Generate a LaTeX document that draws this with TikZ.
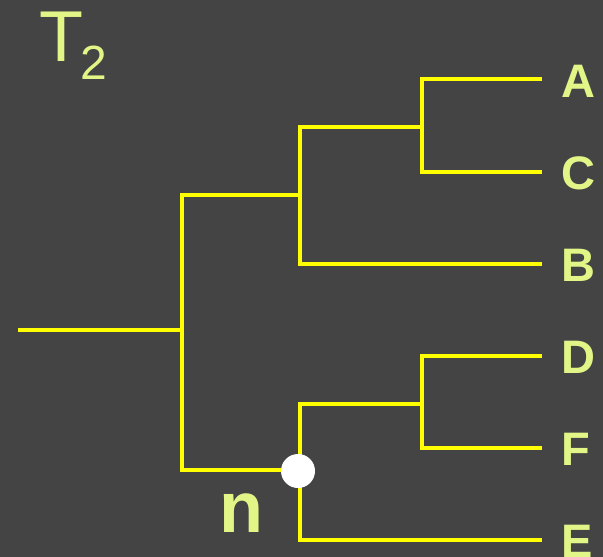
\documentclass[tikz,border=0pt]{standalone}
\usepackage{fontspec}
\setmainfont{Liberation Sans}
\definecolor{bgc}{RGB}{68,68,68}
\definecolor{branch}{RGB}{255,255,0}
\definecolor{lbl}{RGB}{225,246,135}
\tikzset{
  edge/.style={draw=branch, line width=4pt, line join=miter},
  leaf/.style={text=lbl, font=\fontsize{47}{47}\selectfont\bfseries, inner sep=0pt, anchor=base west},
  dot/.style={circle, fill=white, minimum size=34pt, inner sep=0pt}
}
\begin{document}
\begin{tikzpicture}[x=1pt,y=-1pt]
\fill[bgc] (0,0) rectangle (603,557);
\useasboundingbox (0,0) rectangle (603,557);
% title
\node[text=lbl, font=\fontsize{72}{72}\selectfont, inner sep=0pt, anchor=base west] (T) at (39,61) {T};
\node[text=lbl, font=\fontsize{48}{48}\selectfont, inner sep=0pt, anchor=base west] (Tsub) at (80,79) {2};
% internal coordinates
\coordinate (root) at (18,330);
\coordinate (r) at (182,330);
\coordinate (u) at (300,195);
\coordinate (ac) at (422,127);
\coordinate (l) at (300,470);
\coordinate (df) at (422,404);
% leaf ends
\coordinate (eA) at (542,79);
\coordinate (eC) at (542,172);
\coordinate (eB) at (542,264);
\coordinate (eD) at (542,356);
\coordinate (eF) at (542,448);
\coordinate (eE) at (542,540);
% labels
\node[leaf] (A) at (561,97) {A};
\node[leaf] (C) at (561,189) {C};
\node[leaf] (B) at (561,281) {B};
\node[leaf] (D) at (561,373) {D};
\node[leaf] (F) at (561,465) {F};
\node[leaf] (E) at (561,557) {E};
% edges
\draw[edge] (root) -- (r);
\draw[edge] (u) -- (r |- u) -- (r |- l) -- (l);
\draw[edge] (eA) -- (eA -| ac) -- (eC -| ac) -- (eC);
\draw[edge] (ac) -- (ac -| u) -- (eB -| u) -- (eB);
\draw[edge] (eD) -- (eD -| df) -- (eF -| df) -- (eF);
\draw[edge] (df) -- (df -| l) -- (eE -| l) -- (eE);
\node[dot] (n) at (298,471) {};
\node[text=lbl, font=\fontsize{72}{72}\selectfont\bfseries, inner sep=0pt, anchor=base west] (nl) at (219,532) {n};
\end{tikzpicture}
\end{document}
